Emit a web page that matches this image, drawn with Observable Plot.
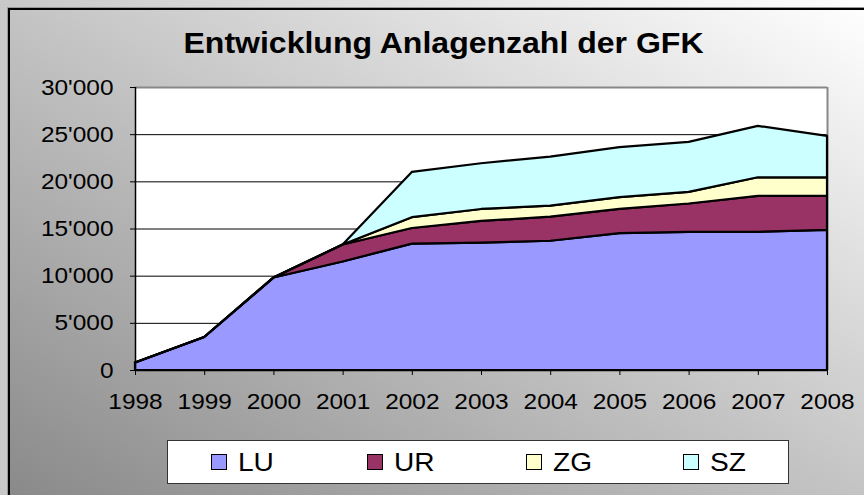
<!DOCTYPE html>
<html>
<head>
<meta charset="utf-8">
<script src="https://cdn.jsdelivr.net/npm/d3@7"></script>
<script src="https://cdn.jsdelivr.net/npm/@observablehq/plot@0.6"></script>
<style>
  html, body { margin: 0; padding: 0; background: #d0d0d0; }
  #wrap { position: relative; width: 864px; height: 495px; overflow: hidden;
    background: linear-gradient(to right, #c8c8c8, #ffffff); }
  #chart { position: absolute; left: 8px; top: 8px; width: 870px; height: 500px;
    border-left: 2px solid #000; border-top: 2px solid #000;
    box-shadow: -1px -1px 0 #999;
    background: linear-gradient(to top right, #888888, #ffffff); }
  #plot { position: absolute; left: 0; top: 0; }
  #legend { position: absolute; left: 167px; top: 440px; width: 622px; height: 44px;
    background: #fff; border: 1px solid #333; box-sizing: border-box;
    font-family: "Liberation Sans", Arial, sans-serif; font-size: 26px; color: #000; }
  .item { position: absolute; top: 0; height: 42px; display: flex; align-items: center; }
  .sw { width: 16px; height: 16px; border: 1px solid #000; box-sizing: border-box; margin-right: 11px; }
  .lab { display: inline-block; transform: scaleX(1.08); transform-origin: left center; }
</style>
</head>
<body>
<div id="wrap">
  <div id="chart"></div>
  <div id="plot"></div>
  <div id="legend"></div>
</div>
<script>
const title = "Entwicklung Anlagenzahl der GFK";
const years = [1998, 1999, 2000, 2001, 2002, 2003, 2004, 2005, 2006, 2007, 2008];
const seriesNames = ["LU", "UR", "ZG", "SZ"];
const seriesColors = ["#9999FF", "#993366", "#FFFFCC", "#CCFFFF"];
const LU = [800, 3500, 9800, 11500, 13400, 13500, 13700, 14500, 14650, 14650, 14850];
const UR = [0, 0, 0, 1800, 1650, 2300, 2550, 2580, 3000, 3800, 3600];
const ZG = [0, 0, 0, 0, 1150, 1270, 1170, 1240, 1230, 1980, 1980];
const SZ = [0, 0, 0, 0, 4800, 4850, 5200, 5300, 5300, 5450, 4380];
const yTicks = [0, 5000, 10000, 15000, 20000, 25000, 30000];
const yTickLabels = ["0", "5'000", "10'000", "15'000", "20'000", "25'000", "30'000"];

const seriesValues = [LU, UR, ZG, SZ];
const data = seriesNames.flatMap((s, i) =>
  years.map((yr, j) => ({year: yr, series: s, value: seriesValues[i][j]})));

const svg = Plot.plot({
  width: 864,
  height: 495,
  marginLeft: 135,
  marginRight: 37,
  marginTop: 87,
  marginBottom: 125,
  style: {background: "transparent", fontFamily: "'Liberation Sans', Arial, sans-serif", color: "#000", overflow: "visible"},
  x: {domain: [1998, 2008], label: null},
  y: {domain: [0, 30000], label: null},
  color: {domain: seriesNames, range: seriesColors},
  marks: [
    Plot.frame({fill: "white", stroke: "none"}),
    Plot.gridY(yTicks, {stroke: "#000", strokeOpacity: 1, strokeWidth: 1}),
    Plot.ruleY([30000], {stroke: "#888", strokeWidth: 2}),
    Plot.ruleX([2008], {stroke: "#888", strokeWidth: 2}),
    Plot.areaY(data, {x: "year", y: "value", z: "series", fill: "series", order: seriesNames,
      stroke: "#000", strokeWidth: 2.2, strokeLinejoin: "round"}),
    Plot.ruleX([1998], {stroke: "#000", strokeWidth: 1.5}),
    Plot.ruleY([0], {stroke: "#000", strokeWidth: 1.5}),
    Plot.axisY(yTicks, {tickFormat: d => yTickLabels[yTicks.indexOf(d)], tickSize: 5,
      tickPadding: 17, fontSize: 22, stroke: "#000", label: null}),
    Plot.axisX(years, {tickFormat: d => String(d), tickSize: 5, tickPadding: 18,
      fontSize: 22, stroke: "#000", label: null}),
    Plot.text([title], {frameAnchor: "top-left", dx: 308, dy: -44, lineAnchor: "middle",
      textAnchor: "middle", fontSize: 30, fontWeight: "bold", fill: "#000"})
  ]
});
document.getElementById("plot").appendChild(svg);

// Excel-style horizontally stretched text
d3.select(svg).selectAll("text").each(function() {
  const L = this.getComputedTextLength();
  const isTitle = this.textContent === title;
  this.setAttribute("textLength", isTitle ? 520 : L * 1.11);
  this.setAttribute("lengthAdjust", "spacingAndGlyphs");
});

// Legend
const legend = document.getElementById("legend");
const legendLeft = [43, 199, 358, 515];
seriesNames.forEach((s, i) => {
  const item = document.createElement("div");
  item.className = "item";
  item.style.left = legendLeft[i] + "px";
  const sw = document.createElement("div");
  sw.className = "sw";
  sw.style.background = seriesColors[i];
  const lab = document.createElement("span");
  lab.className = "lab";
  lab.textContent = s;
  item.appendChild(sw);
  item.appendChild(lab);
  legend.appendChild(item);
});
</script>
</body>
</html>
